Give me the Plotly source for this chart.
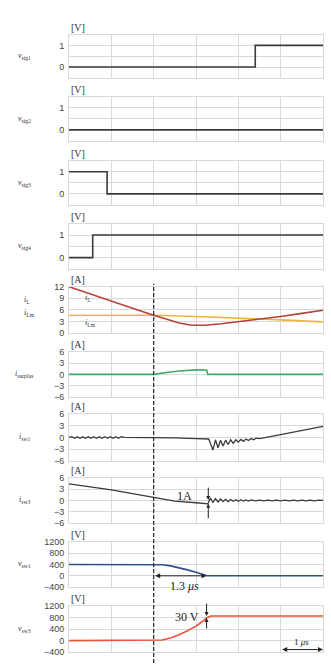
import plotly.graph_objects as go

W, H = 331, 668
ML, MR = 69, 8

# ---------------- data ----------------
t_sig1 = [0, 4.4, 4.4, 6]
v_sig1 = [0, 0, 1, 1]
t_sig2 = [0, 6]
v_sig2 = [0, 0]
t_sig3 = [0, 0.9, 0.9, 6]
v_sig3 = [1, 1, 0, 0]
t_sig4 = [0, 0.56, 0.56, 6]
v_sig4 = [0, 0, 1, 1]

t_iL = [0, 0.5, 1, 1.5, 2, 2.3, 2.6, 2.9, 3.2, 3.6, 4, 4.5, 5, 5.5, 6]
v_iL = [12, 10.2, 8.3, 6.4, 4.6, 3.5, 2.6, 2.0, 2.0, 2.4, 2.9, 3.6, 4.3, 5.1, 5.9]
t_iLm = [0, 2, 3, 4, 5, 6]
v_iLm = [4.6, 4.6, 4.3, 3.9, 3.4, 2.9]

t_isur = [0, 2, 2.3, 2.6, 3.0, 3.25, 3.28, 6]
v_isur = [0, 0, 0.5, 0.9, 1.2, 1.15, 0, 0]

t_isw1 = [0, 0.065, 0.13, 0.195, 0.26, 0.325, 0.39, 0.455, 0.52, 0.585, 0.65,
          0.715, 0.78, 0.845, 0.91, 0.975, 1.04, 1.105, 1.17, 1.235, 1.3,
          2, 2.5, 3.0, 3.3, 3.34, 3.40, 3.46, 3.52, 3.58, 3.64, 3.70, 3.76,
          3.82, 3.88, 3.94, 4.0, 4.06, 4.12, 4.18, 4.24, 4.30, 4.36, 4.42,
          4.5, 5.0, 5.5, 6]
v_isw1 = [0, 0.2, -0.2, 0.2, -0.2, 0.2, -0.2, 0.2, -0.2, 0.2, -0.2,
          0.2, -0.2, 0.2, -0.2, 0.2, -0.2, 0.2, -0.2, 0.2, 0,
          0, -0.1, -0.3, -0.4, -1.5, -3.2, -0.6, -2.6, -0.7, -2.2, -0.7, -1.8,
          -0.6, -1.5, -0.6, -1.2, -0.5, -1.0, -0.4, -0.8, -0.3, -0.6, -0.2,
          -0.3, 0.7, 1.7, 2.8]

t_isw3 = [0, 0.5, 1, 1.5, 2, 2.5, 3.0, 3.28, 3.34, 3.40, 3.46, 3.52, 3.58,
          3.64, 3.70, 3.76, 3.82, 3.88, 3.94, 4.0, 4.06, 4.12, 4.18, 4.24,
          4.30, 4.4, 4.5, 4.6, 4.7, 4.8, 4.9, 5.0, 5.1, 5.2, 5.3, 5.4, 5.5,
          5.6, 5.7, 5.8, 5.9, 6.0]
v_isw3 = [4.4, 3.6, 2.8, 1.8, 0.8, -0.2, -0.6, -0.9, 0.6, -0.5, 0.5, -0.4,
          0.4, -0.3, 0.3, -0.3, 0.25, -0.2, 0.2, -0.2, 0.2, -0.15, 0.15,
          -0.15, 0.15, -0.1, 0.1, -0.1, 0.1, -0.1, 0.1, -0.1, 0.1, -0.1, 0.1,
          -0.1, 0.1, -0.1, 0.1, -0.1, 0.1, 0]

t_vsw1 = [0, 2, 2.2, 2.4, 2.6, 2.8, 3.0, 3.15, 3.25, 6]
v_vsw1 = [400, 400, 390, 350, 290, 210, 130, 50, 0, 0]

t_vsw3 = [0, 2, 2.2, 2.4, 2.6, 2.8, 3.0, 3.15, 3.25, 3.35, 6]
v_vsw3 = [0, 0, 20, 90, 200, 340, 500, 660, 780, 850, 850]

sig_ticks = [0, 1]
sig_minor = [0.5]
i12_ticks = [0, 3, 6, 9, 12]
i6_ticks = [-6, -3, 0, 3, 6]
v_ticks = [-400, 0, 400, 800, 1200]
x_ticks = [0, 1, 2, 3, 4, 5, 6]

# ---------------- layout helpers ----------------
panels = [  # (top px, bottom px, range, tickvals, minor, unit, label)
    (30, 74, [-0.5, 1.5], sig_ticks, sig_minor, "[V]", "<i>v</i><sub>sig1</sub>"),
    (93, 138, [-0.5, 1.5], sig_ticks, sig_minor, "[V]", "<i>v</i><sub>sig2</sub>"),
    (158, 203, [-0.5, 1.5], sig_ticks, sig_minor, "[V]", "<i>v</i><sub>sig3</sub>"),
    (222, 268, [-0.5, 1.5], sig_ticks, sig_minor, "[V]", "<i>v</i><sub>sig4</sub>"),
    (286, 333, [0, 12], i12_ticks, None, "[A]", None),
    (352, 398, [-6, 6], i6_ticks, None, "[A]", "<i>i</i><sub>surplus</sub>"),
    (415, 463, [-6, 6], i6_ticks, None, "[A]", "<i>i</i><sub>sw1</sub>"),
    (480, 526, [-6, 6], i6_ticks, None, "[A]", "<i>i</i><sub>sw3</sub>"),
    (545, 591, [-400, 1200], v_ticks, None, "[V]", "<i>v</i><sub>sw1</sub>"),
    (610, 657, [-400, 1200], v_ticks, None, "[V]", "<i>v</i><sub>sw3</sub>"),
]

grid_c = "#d9d9d9"
tick_font = dict(family="Liberation Sans", size=9, color="#444")
serif = "Liberation Serif"

fig = go.Figure()
layout = dict(width=W, height=H, margin=dict(l=ML, r=MR, t=0, b=0),
              paper_bgcolor="white", plot_bgcolor="white", showlegend=False)
annotations = []

for i, (top, bot, rng, tv, mn, unit, lab) in enumerate(panels):
    n = i + 1
    xs = "" if n == 1 else str(n)
    layout["xaxis" + xs] = dict(
        domain=[0, 1], anchor="y" + xs, range=[0, 6], tickvals=x_ticks,
        showticklabels=False, showgrid=True, gridcolor=grid_c, gridwidth=1,
        zeroline=False, showline=True, mirror=True, linecolor=grid_c,
        ticks="", **({} if n == 1 else {"matches": "x"}))
    ya = dict(
        domain=[1 - bot / H, 1 - top / H], anchor="x" + xs, range=rng,
        tickvals=tv, showgrid=True, gridcolor=grid_c, gridwidth=1,
        zeroline=False, showline=True, mirror=True, linecolor=grid_c,
        ticks="", tickfont=tick_font, ticklabelstandoff=2)
    if mn is not None:
        ya["minor"] = dict(tickvals=mn, showgrid=True, gridcolor=grid_c,
                           gridwidth=1, ticks="")
    layout["yaxis" + xs] = ya
    annotations.append(dict(
        text=unit, xref="paper", yref="paper", x=0.0, y=1 - (top - 7) / H,
        xanchor="left", yanchor="middle", showarrow=False,
        font=dict(family=serif, size=10, color="#333")))
    if lab:
        annotations.append(dict(
            text=lab, xref="paper", yref="paper", x=(24 - ML) / (W - ML - MR),
            y=1 - ((top + bot) / 2) / H, xanchor="center", yanchor="middle",
            showarrow=False, font=dict(family=serif, size=8, color="#333")))

# iL panel left labels
annotations.append(dict(text="<i>i</i><sub>L</sub>", xref="paper", yref="paper",
                        x=(22 - ML) / (W - ML - MR), y=1 - 299 / H, showarrow=False,
                        font=dict(family=serif, size=8, color="#333")))
annotations.append(dict(text="<i>i</i><sub>Lm</sub>", xref="paper", yref="paper",
                        x=(22 - ML) / (W - ML - MR), y=1 - 313 / H, showarrow=False,
                        font=dict(family=serif, size=8, color="#333")))
# inline labels
annotations.append(dict(text="<i>i</i><sub>L</sub>", xref="x5", yref="y5",
                        x=0.45, y=9.0, showarrow=False,
                        font=dict(family=serif, size=8, color="#333")))
annotations.append(dict(text="<i>i</i><sub>Lm</sub>", xref="x5", yref="y5",
                        x=0.5, y=2.6, showarrow=False,
                        font=dict(family=serif, size=8, color="#333")))

def line(x, y, n, color, width=1.6):
    xs = "" if n == 1 else str(n)
    fig.add_trace(go.Scatter(x=x, y=y, mode="lines", xaxis="x" + xs, yaxis="y" + xs,
                             line=dict(color=color, width=width), hoverinfo="skip"))

line(t_sig1, v_sig1, 1, "#3a3a3a")
line(t_sig2, v_sig2, 2, "#3a3a3a")
line(t_sig3, v_sig3, 3, "#3a3a3a")
line(t_sig4, v_sig4, 4, "#3a3a3a")
line(t_iLm, v_iLm, 5, "#f0b53a")
line(t_iL, v_iL, 5, "#b8403a")
line(t_isur, v_isur, 6, "#3fa86a")
line(t_isw1, v_isw1, 7, "#3a3a3a", 1.3)
line(t_isw3, v_isw3, 8, "#3a3a3a", 1.3)
line(t_vsw1, v_vsw1, 9, "#2f4e8c")
line(t_vsw3, v_vsw3, 10, "#e8553a")

ann_font = dict(family=serif, size=12, color="#222")
# 1.3 us arrow
annotations.append(dict(x=3.25, y=0, ax=2.0, ay=0, xref="x9", yref="y9",
                        axref="x9", ayref="y9", text="", showarrow=True,
                        arrowhead=2, arrowside="end+start", arrowsize=1,
                        arrowwidth=1, arrowcolor="#222"))
annotations.append(dict(x=2.72, y=-370, xref="x9", yref="y9", showarrow=False,
                        text="1.3 <i>μs</i>", font=ann_font))
# 30 V
annotations.append(dict(x=2.78, y=800, xref="x10", yref="y10", showarrow=False,
                        text="30 V", font=ann_font, xanchor="center"))
annotations.append(dict(x=3.25, y=850, xref="x10", yref="y10", ax=0, ay=-14,
                        text="", showarrow=True, arrowhead=2, arrowwidth=1,
                        arrowsize=0.8, arrowcolor="#222"))
annotations.append(dict(x=3.25, y=780, xref="x10", yref="y10", ax=0, ay=12,
                        text="", showarrow=True, arrowhead=2, arrowwidth=1,
                        arrowsize=0.8, arrowcolor="#222"))
# 1A
annotations.append(dict(x=2.72, y=1.2, xref="x8", yref="y8", showarrow=False,
                        text="1A", font=ann_font))
annotations.append(dict(x=3.29, y=0.1, xref="x8", yref="y8", ax=0, ay=-14,
                        text="", showarrow=True, arrowhead=2, arrowwidth=1,
                        arrowsize=0.8, arrowcolor="#222"))
annotations.append(dict(x=3.29, y=-0.9, xref="x8", yref="y8", ax=0, ay=16,
                        text="", showarrow=True, arrowhead=2, arrowwidth=1,
                        arrowsize=0.8, arrowcolor="#222"))
# 1 us scale
annotations.append(dict(x=6, y=-310, ax=5, ay=-310, xref="x10", yref="y10",
                        axref="x10", ayref="y10", text="", showarrow=True,
                        arrowhead=2, arrowside="end+start", arrowsize=1,
                        arrowwidth=1, arrowcolor="#222"))
annotations.append(dict(x=5.5, y=-60, xref="x10", yref="y10", showarrow=False,
                        text="1 <i>μs</i>", font=dict(family=serif, size=9, color="#222")))

layout["annotations"] = annotations
layout["shapes"] = [dict(type="line", xref="x", yref="paper", x0=2.0, x1=2.0,
                         y0=0.0, y1=1 - 283 / H,
                         line=dict(color="#333", width=1.3, dash="4px,2px"))]
fig.update_layout(**layout)
fig.write_html("out.html")
